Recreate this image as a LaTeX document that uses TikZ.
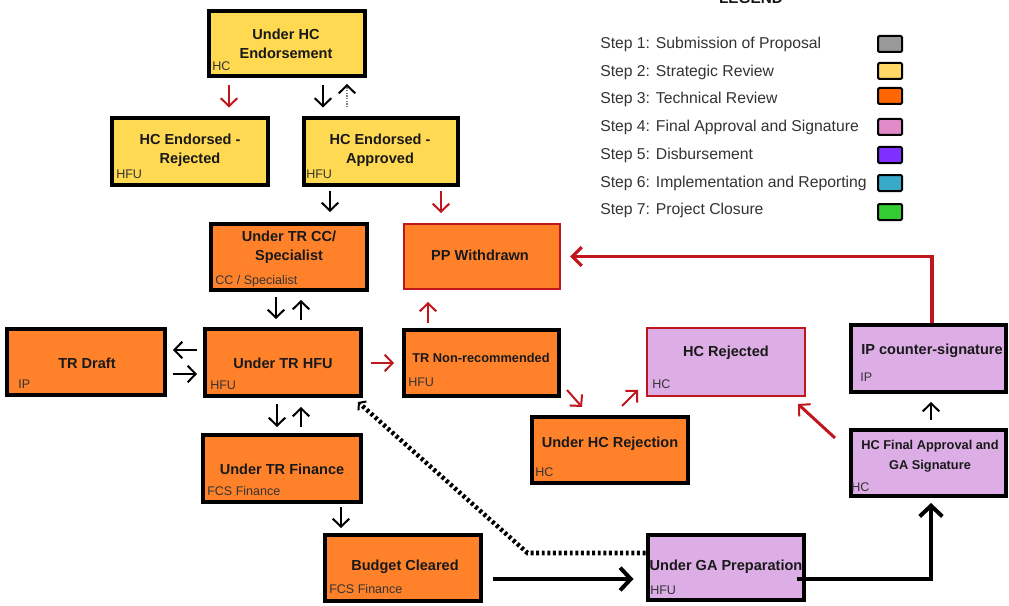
\documentclass[tikz,border=0pt]{standalone}
\usepackage{fontspec}
\setmainfont{Liberation Sans}
\usetikzlibrary{arrows.meta,calc}

\definecolor{stepgray}{HTML}{999999}
\definecolor{stepyellow}{HTML}{FFD966}
\definecolor{steporange}{HTML}{FF6600}
\definecolor{steppink}{HTML}{E08AC8}
\definecolor{steppurple}{HTML}{7F2FFF}
\definecolor{stepteal}{HTML}{39A9C9}
\definecolor{stepgreen}{HTML}{33CC33}
\definecolor{boxyellow}{HTML}{FFD952}
\definecolor{boxorange}{HTML}{FF822B}
\definecolor{boxpink}{HTML}{DDAEE6}
\definecolor{flowred}{HTML}{C0161D}
\definecolor{rolegray}{HTML}{333333}

\begin{document}
\begin{tikzpicture}[x=0.75pt,y=0.75pt,yscale=-1,xscale=1,
    box/.style={draw=black, line width=3pt, minimum width=117pt, minimum height=49.5pt, inner sep=0pt},
    redbox/.style={draw=flowred, line width=1.5pt, inner sep=0pt},
    title/.style={font=\fontsize{10.9}{14}\selectfont\bfseries, align=center, inner sep=0pt, text=black!90},
    smalltitle/.style={title, font=\fontsize{9.6}{15}\selectfont\bfseries},
    role/.style={font=\fontsize{9.4}{11}\selectfont, anchor=base west, inner sep=0pt, text=rolegray},
    legendtext/.style={font=\fontsize{11.8}{13}\selectfont, anchor=base west, inner sep=0pt, text=rolegray},
    swatch/.style={draw=black, line width=1.5pt, rounded corners=1pt, minimum width=18pt, minimum height=12pt, inner sep=0pt},
    flow/.style={draw=black, line width=1.5pt, -{Straight Barb[length=6pt,width=12.5pt,line width=1.5pt]}},
    redflow/.style={flow, draw=flowred},
    backflow/.style={draw=gray, line width=1.8pt, dash pattern=on 1pt off 1pt, -{Straight Barb[length=6pt,width=12.5pt,line width=1.5pt,color=black]}},
    bigflow/.style={draw=black, line width=3pt, -{Straight Barb[length=8pt,width=17pt,line width=3pt]}},
    redline/.style={draw=flowred, line width=2.5pt, -{Straight Barb[length=7pt,width=14pt,line width=2.5pt]}},
    budgetlink/.style={draw=black, line width=3.4pt, dash pattern=on 2.2pt off 2pt, -{Straight Barb[length=3.5pt,width=9pt,line width=1.5pt]}}
  ]
    \useasboundingbox (0,0) rectangle (1009,606);
    \fill[white] (0,0) rectangle (1009,606);

    % strategic review
    \node[box, fill=boxyellow, minimum height=48.75pt] (hce) at (287,43.5) {};
    \node[box, fill=boxyellow] (hcrej) at (190,151.5) {};
    \node[box, fill=boxyellow, minimum width=115.5pt] (hcapp) at (381,151.5) {};

    % technical review
    \node[box, fill=boxorange] (trcc) at (288.5,257) {};
    \node[redbox, fill=boxorange, minimum width=117pt, minimum height=48.75pt] (ppw) at (482,256.5) {};
    \node[box, fill=boxorange, minimum width=118.5pt] (trd) at (86,362) {};
    \node[box, fill=boxorange, minimum height=50.25pt] (trhfu) at (283,362.5) {};
    \node[box, fill=boxorange, minimum width=116.25pt] (trnr) at (481.5,363) {};
    \node[box, fill=boxorange] (uhcr) at (610,450) {};
    \node[box, fill=boxorange, minimum width=118.5pt, minimum height=50.25pt] (trfin) at (282,468.5) {};
    \node[box, fill=boxorange] (budget) at (402.5,568) {};

    % final approval
    \node[redbox, fill=boxpink, minimum width=118.5pt, minimum height=51pt] (hcr) at (726,362) {};
    \node[box, fill=boxpink, minimum width=116.25pt, minimum height=50.25pt] (ipcs) at (928.5,358.5) {};
    \node[box, fill=boxpink, minimum width=116.25pt] (hcfa) at (928.5,463) {};
    \node[box, fill=boxpink, minimum height=48.75pt] (gaprep) at (725.5,567.5) {};

    % connectors
    \draw[redflow, shorten <=5.25pt, shorten >=6.75pt] (229,0 |- hce.south) -- (229,0 |- hcrej.north);
    \draw[flow, shorten <=5.25pt, shorten >=6.75pt] (323,0 |- hce.south) -- (323,0 |- hcapp.north);
    \draw[backflow, shorten <=6.75pt, shorten >=4.5pt] (347,0 |- hcapp.north) -- (347,0 |- hce.south);
    \draw[flow, shorten <=3pt, shorten >=7.5pt] (330,0 |- hcapp.south) -- (330,0 |- trcc.north);
    \draw[redflow, shorten <=3pt, shorten >=7.5pt] (441,0 |- hcapp.south) -- (441,0 |- ppw.north);
    \draw[flow, shorten <=3.75pt, shorten >=6pt] (276,0 |- trcc.south) -- (276,0 |- trhfu.north);
    \draw[flow, shorten <=5.25pt, shorten >=6pt] (301,0 |- trhfu.north) -- (301,0 |- trcc.south);
    \draw[flow, shorten <=4.5pt, shorten >=4.5pt] (0,350 -| trhfu.west) -- (0,350 -| trd.east);
    \draw[flow, shorten <=4.5pt, shorten >=4.5pt] (0,374 -| trd.east) -- (0,374 -| trhfu.west);
    \draw[redflow, shorten <=6pt, shorten >=6pt] (0,363 -| trhfu.east) -- (0,363 -| trnr.west);
    \draw[redflow, shorten <=3.75pt, shorten >=9pt] (428,0 |- trnr.north) -- (428,0 |- ppw.south);
    \draw[redflow] ($(trnr.south east)+(6,-8)$) -- ($(uhcr.north west)+(52,-8)$);
    \draw[redflow] ($(uhcr.north west)+(92,-9)$) -- ($(hcr.south west)+(-8,-7)$);
    \draw[redflow, line width=2.25pt] ($(hcfa.north west)+(-14,10)$) -- ($(hcr.south east)+(-8,7)$);
    \draw[flow, shorten <=6pt, shorten >=6pt] (931,0 |- hcfa.north) -- (931,0 |- ipcs.south);
    \draw[flow, shorten <=4.5pt, shorten >=4.5pt] (277,0 |- trhfu.south) -- (277,0 |- trfin.north);
    \draw[flow, shorten <=4.5pt, shorten >=6.75pt] (301,0 |- trfin.north) -- (301,0 |- trhfu.south);
    \draw[flow, shorten <=2.25pt, shorten >=3.75pt] (341,0 |- trfin.south) -- (341,0 |- budget.north);
    \draw[bigflow, shorten <=7.5pt, shorten >=9pt] (0,579 -| budget.east) -- (0,579 -| gaprep.west);
    \draw[bigflow, shorten >=3.75pt] ($(gaprep.east)+(-9,11)$) -| (931,0 |- hcfa.south);
    \draw[redline, shorten >=6.75pt] (932,0 |- ipcs.north) |- (ppw.east);
    \draw[budgetlink] ($(gaprep.west)+(0,-14.5)$) -- ($(gaprep.west)+(-118,-14.5)$) -- ($(trhfu.south east)+(-5,4)$);

    % box texts
    \node[title] (hce-t) at (286,44) {Under HC\\Endorsement};
    \node[role] (hce-r) at (212,70.5) {HC};
    \node[title] (hcrej-t) at (190,150.5) {HC Endorsed -\\Rejected};
    \node[role] (hcrej-r) at (116,178.5) {HFU};
    \node[title] (hcapp-t) at (380,150.5) {HC Endorsed -\\Approved};
    \node[role] (hcapp-r) at (306,178.5) {HFU};
    \node[title] (trcc-t) at (289,247.5) {Under TR CC/\\Specialist};
    \node[role] (trcc-r) at (215,284.5) {CC / Specialist};
    \node[title] (ppw-t) at (480,255) {PP Withdrawn};
    \node[title] (trd-t) at (87,363) {TR Draft};
    \node[role] (trd-r) at (18,388.5) {IP};
    \node[title] (trhfu-t) at (283,363) {Under TR HFU};
    \node[role] (trhfu-r) at (210,389.5) {HFU};
    \node[smalltitle] (trnr-t) at (481,358) {TR Non-recommended};
    \node[role] (trnr-r) at (408,386.5) {HFU};
    \node[title] (hcr-t) at (726,353) {HC Rejected};
    \node[role] (hcr-r) at (652,388.5) {HC};
    \node[title] (ipcs-t) at (932,351) {IP counter-signature};
    \node[role] (ipcs-r) at (860,381.5) {IP};
    \node[title] (uhcr-t) at (610,444) {Under HC Rejection};
    \node[role] (uhcr-r) at (535,476.5) {HC};
    \node[smalltitle] (hcfa-t) at (930,456.5) {HC Final Approval and\\GA Signature};
    \node[role] (hcfa-r) at (851,491.5) {HC};
    \node[title] (trfin-t) at (282,469) {Under TR Finance};
    \node[role] (trfin-r) at (207,495.5) {FCS Finance};
    \node[title] (budget-t) at (405,567) {Budget Cleared};
    \node[role] (budget-r) at (329,593.5) {FCS Finance};
    \node[title] (gaprep-t) at (726,567) {Under GA Preparation};
    \node[role] (gaprep-r) at (650,594.5) {HFU};

    % legend
    \node[font=\fontsize{11.5}{12}\selectfont\bfseries, anchor=base, inner sep=0pt, text=black!90] (legend) at (751,4) {LEGEND};
    \node[legendtext] (s1) at (600,48.5) {Step 1: Submission of Proposal};
    \node[legendtext] (s2) at (600,76.5) {Step 2: Strategic Review};
    \node[legendtext] (s3) at (600,103.5) {Step 3: Technical Review};
    \node[legendtext] (s4) at (600,131.5) {Step 4: Final Approval and Signature};
    \node[legendtext] (s5) at (600,159.5) {Step 5: Disbursement};
    \node[legendtext] (s6) at (600,187.5) {Step 6: Implementation and Reporting};
    \node[legendtext] (s7) at (600,214.5) {Step 7: Project Closure};
    \node[swatch, fill=stepgray] (s1-c) at (890,44) {};
    \node[swatch, fill=stepyellow] (s2-c) at (890,71) {};
    \node[swatch, fill=steporange] (s3-c) at (890,96) {};
    \node[swatch, fill=steppink] (s4-c) at (890,127) {};
    \node[swatch, fill=steppurple] (s5-c) at (890,155) {};
    \node[swatch, fill=stepteal] (s6-c) at (890,183) {};
    \node[swatch, fill=stepgreen] (s7-c) at (890,212) {};
\end{tikzpicture}
\end{document}
